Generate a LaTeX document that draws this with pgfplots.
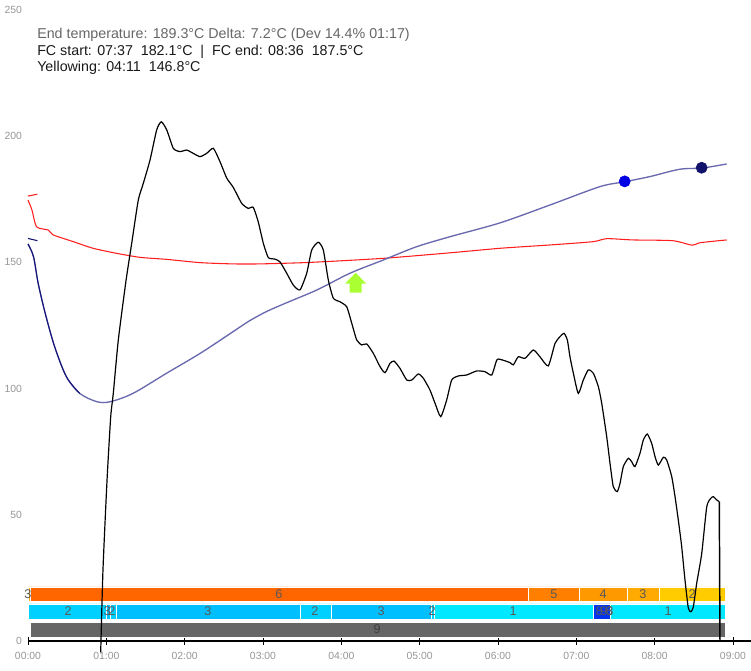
\documentclass[border=0pt]{standalone}
\usepackage{pgfplots}
\pgfplotsset{compat=1.18}
\usepackage{fontspec}
\setmainfont{Liberation Sans}
\definecolor{btblue}{RGB}{105,105,175}
\definecolor{btnavy}{RGB}{20,20,120}
\definecolor{etred}{RGB}{255,30,30}
\definecolor{ora6}{RGB}{255,102,0}
\definecolor{ora5}{RGB}{255,128,0}
\definecolor{ora4}{RGB}{255,153,0}
\definecolor{ora3}{RGB}{255,170,0}
\definecolor{ora2}{RGB}{255,204,0}
\definecolor{cy3}{RGB}{0,191,255}
\definecolor{cy2}{RGB}{0,208,255}
\definecolor{cy1}{RGB}{0,232,255}
\definecolor{dkblue}{RGB}{0,51,238}
\definecolor{bargray}{RGB}{102,102,102}
\definecolor{yellowarrow}{RGB}{170,255,50}
\definecolor{ticktext}{RGB}{150,150,150}
\newcommand{\seg}[5]{\addplot[fill=#5, draw=white, line width=0.4pt] coordinates {(#1,#3) (#2,#3) (#2,#4) (#1,#4) (#1,#3)};}
\newcommand{\lab}[3]{\node[font=\fontsize{9.5}{10}\selectfont, text=black!65, inner sep=0pt] at (axis cs:#1,#2) {#3};}
\begin{document}
\begin{tikzpicture}
\useasboundingbox (-21pt,-22.5pt) rectangle (542.25pt,480.75pt);
\begin{axis}[
 at={(0,0)}, anchor=south west,
 scale only axis, width=542.25pt, height=473.25pt,
 xmin=0, xmax=9.23, ymin=0, ymax=250,
 axis lines*=left,
 y axis line style={draw=none},
 x axis line style={black, line width=0.9pt, -},
 xtick={0,1,2,3,4,5,6,7,8,9},
 xticklabels={00:00,01:00,02:00,03:00,04:00,05:00,06:00,07:00,08:00,09:00},
 ytick={0,50,100,150,200,250},
 tick align=center, major tick length=6pt,
 xtick style={black, line width=0.6pt},
 ytick style={draw=none},
 tick label style={font=\fontsize{7.8}{9}\selectfont, text=ticktext},
 yticklabel style={xshift=2pt},
 xticklabel style={yshift=-2pt},
 /pgf/number format/assume math mode=true,
 clip=false,
]
% phase bars: orange row
\seg{0}{0.026}{15.8}{21.4}{ora3}
\seg{0.026}{6.387}{15.8}{21.4}{ora6}
\seg{6.387}{7.038}{15.8}{21.4}{ora5}
\seg{7.038}{7.651}{15.8}{21.4}{ora4}
\seg{7.651}{8.060}{15.8}{21.4}{ora3}
\seg{8.060}{8.902}{15.8}{21.4}{ora2}
% blue row
\seg{0.004}{0.996}{8.7}{14.7}{cy2}
\seg{0.996}{1.047}{8.7}{14.7}{cy3}
\seg{1.047}{1.123}{8.7}{14.7}{cy2}
\seg{1.123}{3.472}{8.7}{14.7}{cy3}
\seg{3.472}{3.877}{8.7}{14.7}{cy2}
\seg{3.877}{5.154}{8.7}{14.7}{cy3}
\seg{5.154}{5.183}{8.7}{14.7}{cy2}
\seg{5.183}{7.217}{8.7}{14.7}{cy1}
\seg{7.217}{7.430}{8.7}{14.7}{dkblue}
\seg{7.430}{8.902}{8.7}{14.7}{cy1}
% gray row
\seg{0.034}{8.902}{1.6}{7.5}{bargray}
\lab{0}{18.6}{3}
\lab{3.204}{18.6}{6}
\lab{6.715}{18.6}{5}
\lab{7.341}{18.6}{4}
\lab{7.851}{18.6}{3}
\lab{8.477}{18.6}{2}
\lab{0.511}{11.7}{2}
\lab{1.009}{11.7}{3}
\lab{1.072}{11.7}{2}
\lab{2.298}{11.7}{3}
\lab{3.664}{11.7}{2}
\lab{4.507}{11.7}{3}
\lab{5.158}{11.7}{2}
\lab{6.192}{11.7}{1}
\lab{7.290}{11.7}{8}
\lab{7.353}{11.7}{9}
\lab{7.418}{11.7}{6}
\lab{7.430}{11.7}{3}
\lab{8.171}{11.7}{1}
\node[font=\fontsize{9.5}{10}\selectfont, text=black!75, inner sep=0pt] at (axis cs:4.456,4.55) {9};
% environment temperature
\addplot[etred, line width=0.8pt, smooth, tension=0.4] coordinates {
(0.00,174.7) (0.05,170.8) (0.11,164.1) (0.26,162.8) (0.32,160.9) (0.58,158.2)
(0.83,155.6) (1.13,153.6) (1.43,152.0) (1.77,151.2) (2.20,149.9) (2.62,149.4)
(2.96,149.4) (3.60,150.0) (4.53,151.6) (5.39,153.8) (6.03,155.6) (6.66,156.9)
(7.21,158.2) (7.39,159.4) (7.72,158.9) (8.23,158.6) (8.48,156.8) (8.58,157.8)
(8.92,158.9)
};
\addplot[etred, line width=0.8pt] coordinates {(0.00,176.3) (0.12,177.0)};
% bean temperature
\addplot[btblue, line width=1pt, smooth, tension=0.5] coordinates {
(0.00,157.3) (0.07,152.3) (0.13,141.7) (0.22,129.8) (0.34,116.6) (0.49,104.7)
(0.66,98.1) (0.88,94.8) (1.05,94.8) (1.34,98.1) (1.77,106.1) (2.20,114.0)
(2.62,122.6) (2.83,126.9) (3.05,130.6) (3.30,134.0) (3.69,139.1) (4.11,145.7)
(4.54,151.0) (4.96,156.2) (5.39,160.2) (6.03,165.7) (6.66,172.7) (7.30,180.0)
(7.61,181.9) (7.94,184.0) (8.32,186.9) (8.61,187.4) (8.92,189.0)
};
\addplot[btnavy, line width=0.8pt, smooth, tension=0.5] coordinates {
(0.00,157.3) (0.07,152.3) (0.13,141.7) (0.22,129.8) (0.34,116.6) (0.49,104.7)
(0.66,98.1)
};
\addplot[btnavy, line width=0.8pt] coordinates {(0.00,159.5) (0.12,158.6)};
% rate of rise
\addplot[black, line width=0.9pt, smooth, tension=0.35] coordinates {
(0.928,-4.5) (0.957,28.1) (1.009,63.8) (1.056,88.9) (1.089,98.1) (1.153,119.3)
(1.250,142.5) (1.324,157.6) (1.408,174.7) (1.472,181.3) (1.558,190.6) (1.643,202.5)
(1.702,205.7) (1.771,202.5) (1.855,195.2) (1.940,193.9) (2.026,194.5) (2.110,193.2)
(2.196,191.9) (2.281,193.2) (2.366,195.2) (2.451,189.9) (2.537,183.4) (2.621,179.7)
(2.728,173.4) (2.812,171.4) (2.876,171.8) (2.940,166.0) (3.004,157.6) (3.068,151.9)
(3.153,151.3) (3.217,150.2) (3.303,145.7) (3.387,141.0) (3.472,139.1) (3.558,145.7)
(3.622,154.9) (3.706,158.0) (3.770,154.9) (3.834,143.0) (3.898,135.8) (3.983,134.4)
(4.069,132.4) (4.133,125.9) (4.196,119.3) (4.260,117.3) (4.324,117.7) (4.408,114.0)
(4.494,108.7) (4.558,106.3) (4.621,110.0) (4.673,110.9) (4.749,108.0) (4.835,103.4)
(4.899,103.4) (4.983,105.8) (5.047,104.1) (5.132,99.4) (5.196,94.2) (5.269,88.9)
(5.345,95.5) (5.409,103.4) (5.493,105.0) (5.601,105.4) (5.728,107.0) (5.834,106.7)
(5.920,105.4) (5.984,111.3) (6.026,111.6) (6.153,110.3) (6.196,109.4) (6.259,112.6)
(6.345,112.0) (6.451,115.3) (6.536,112.6) (6.642,109.0) (6.728,117.9) (6.792,120.6)
(6.843,121.9) (6.885,119.3) (6.919,112.6) (6.962,106.1) (7.025,98.1) (7.089,103.4)
(7.153,107.4) (7.217,106.1) (7.281,100.8) (7.324,94.2) (7.388,80.9) (7.430,70.4)
(7.472,61.1) (7.523,59.2) (7.558,62.5) (7.600,69.1) (7.664,72.4) (7.707,71.0)
(7.749,69.1) (7.813,74.4) (7.855,79.6) (7.906,82.0) (7.962,78.3) (8.005,73.0)
(8.047,69.7) (8.111,72.8) (8.154,71.7) (8.218,65.1) (8.260,57.2) (8.302,47.9)
(8.345,37.4) (8.387,24.2) (8.430,13.0) (8.464,11.6) (8.494,13.6) (8.537,22.9)
(8.601,34.7) (8.665,53.2) (8.716,56.5) (8.749,57.2) (8.792,55.9) (8.825,55.2)
};
\addplot[black, line width=1.1pt] coordinates {(8.825,55.2) (8.834,0) (8.91,0)};
% yellowing arrow
\addplot[fill=yellowarrow, draw=none] coordinates {
(4.183,145.9) (4.317,141.6) (4.260,141.6) (4.260,138.0) (4.106,138.0)
(4.106,141.6) (4.049,141.6) (4.183,145.9)
};
% first crack markers
\addplot[only marks, mark=*, mark size=4.2pt, mark options={fill=blue!90!black, draw=blue!90!black}] coordinates {(7.617,182.1)};
\addplot[only marks, mark=*, mark size=4.2pt, mark options={fill=btnavy!90!black, draw=btnavy!90!black}] coordinates {(8.60,187.5)};
% header
\node[anchor=north west, align=left, inner sep=0pt, font=\fontsize{10.7}{12.4}\selectfont] at (axis cs:0.115,242.8)
 {\textcolor{black!60}{End temperature: 189.3°C Delta: 7.2°C (Dev 14.4\% 01:17)}\\
  \textcolor{black!90}{FC start: 07:37\ \ 182.1°C\ \ |\ \ FC end: 08:36\ \ 187.5°C}\\
  \textcolor{black!90}{Yellowing: 04:11\ \ 146.8°C}};
\end{axis}
\end{tikzpicture}
\end{document}
